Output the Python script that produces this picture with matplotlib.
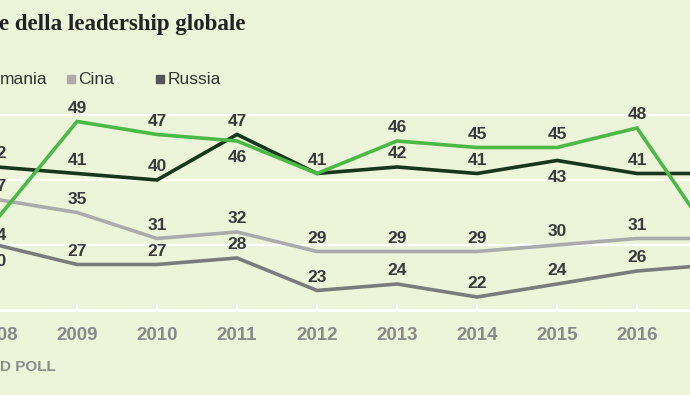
import matplotlib
matplotlib.use('Agg')
import matplotlib.pyplot as plt
from matplotlib.patches import Rectangle

plt.rcParams['font.family'] = ['Liberation Sans', 'DejaVu Sans']

BG = '#ecf4da'

# Gallup: approvazione della leadership (%)
years = [2008, 2009, 2010, 2011, 2012, 2013, 2014, 2015, 2016, 2017]
usa = [34, 49, 47, 46, 41, 46, 45, 45, 48, 30]
germania = [42, 41, 40, 47, 41, 42, 41, 43, 41, 41]
cina = [37, 35, 31, 32, 29, 29, 29, 30, 31, 31]
russia = [30, 27, 27, 28, 23, 24, 22, 24, 26, 27]

series = [
    ('russia', russia, '#7b7b7b'),
    ('cina', cina, '#ababab'),
    ('germania', germania, '#17361b'),
    ('usa', usa, '#4cb848'),
]

# labels drawn under the line instead of above
below = {('usa', 2008), ('usa', 2011), ('germania', 2015), ('russia', 2008)}
skip = {('usa', 2012)}

fig = plt.figure(figsize=(6.9, 3.95), dpi=100, facecolor=BG)
# axes reach past the left edge: the picture is a crop
ax = fig.add_axes([-0.0623, 0.2152, 1.0623, 0.576])
ax.set_facecolor(BG)

ax.set_yticks([30, 40, 50])
ax.yaxis.grid(True, color='white', lw=1.6)
ax.set_axisbelow(True)
ax.tick_params(axis='y', length=0, labelleft=False)

for s in ['top', 'right', 'left']:
    ax.spines[s].set_visible(False)
ax.spines['bottom'].set_color('white')
ax.spines['bottom'].set_linewidth(2.2)

ax.set_xticks(years)
ax.set_xticklabels([str(y) for y in years])
ax.tick_params(axis='x', direction='in', length=4, width=1.5, color='white',
               pad=12, labelsize=13.5, labelcolor='#8a8a8a')
for lbl in ax.get_xticklabels():
    lbl.set_fontweight('bold')

for name, vals, col in series:
    ax.plot(years, vals, color=col, lw=2.6, solid_joinstyle='miter')
    for yr, v in zip(years, vals):
        if (name, yr) in skip or yr > 2016:
            continue
        dy = -12 if (name, yr) in below else 9.5
        ax.annotate(str(v), (yr, v), xytext=(0, dy), textcoords='offset points',
                    ha='center', va='center', fontsize=12.5, fontweight='bold',
                    color='#3a3a3a', annotation_clip=False)

# limits last, set_xticks would widen them
ax.set_xlim(2007.5, 2016.6625)
ax.set_ylim(20, 55)

fig.text(-0.001, 1 - 30 / 395, 'e della leadership globale', family='Liberation Serif',
         fontsize=16.5, fontweight='bold', color='#222222', va='baseline', ha='left')

# legend (left part cut off)
fig.text(0.0, 1 - 84 / 395, 'mania', fontsize=12.5, color='#333333', va='baseline')
fig.patches.append(Rectangle((67 / 690, 1 - 83 / 395), 8 / 690, 8 / 395,
                             transform=fig.transFigure, color='#ababab'))
fig.text(78 / 690, 1 - 84 / 395, 'Cina', fontsize=12.5, color='#333333', va='baseline')
fig.patches.append(Rectangle((156 / 690, 1 - 83 / 395), 8 / 690, 8 / 395,
                             transform=fig.transFigure, color='#555555'))
fig.text(168 / 690, 1 - 84 / 395, 'Russia', fontsize=12.5, color='#333333', va='baseline')

fig.text(0.0, 1 - 367 / 395, 'D POLL', fontsize=11, fontweight='bold',
         color='#8c8c8c', va='center')

fig.savefig('out.png', dpi=100, facecolor=BG)
